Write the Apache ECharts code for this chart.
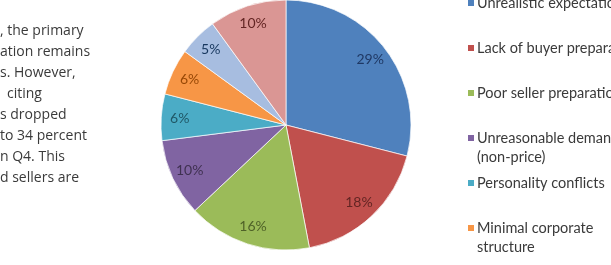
<!DOCTYPE html>
<html>
<head>
<meta charset="utf-8">
<script src="https://cdn.jsdelivr.net/npm/echarts@6/dist/echarts.min.js"></script>
<style>
  html, body { margin: 0; padding: 0; background: #fff; }
  #chart { width: 611px; height: 265px; }
</style>
</head>
<body>
<div id="chart"></div>
<script>
// slice data, clockwise from 12 o'clock
const reasons = [
  'Unrealistic expectations',
  'Lack of buyer preparation',
  'Poor seller preparation',
  'Unreasonable demands\n(non-price)',
  'Personality conflicts',
  'Minimal corporate\nstructure',
  'Financing issues',
  'Other'
];
const shares = [29, 18, 16, 10, 6, 6, 5, 10];

const sliceColors = ['#4F81BD', '#C0504D', '#9BBB59', '#8064A2', '#4BACC6', '#F79646', '#A7BDE0', '#DA9694'];
const labelColors = ['#1F3864', '#632523', '#4F6228', '#3F3151', '#205867', '#974806', '#17375E', '#632523'];

// text column on the left, clipped by the page edge
const sideText = [
  ', the primary',
  'ation remains',
  's. However,',
  ' citing',
  's dropped',
  'to 34 percent',
  'n Q4. This',
  'd sellers are'
];

let chart = echarts.init(document.getElementById('chart'), null, { renderer: 'canvas' });

const center = [286, 125];
const radius = 125;
const legendLine = 19;

let pieData = reasons.map(function(name, i) {
  return {
    name: name,
    value: shares[i],
    itemStyle: { color: sliceColors[i] },
    label: { color: labelColors[i] }
  };
});

// one legend per entry so every row keeps the same pitch
let legends = reasons.map(function(name, i) {
  let lines = name.split('\n').length;
  let mid = 3 + i * 45;
  return {
    orient: 'vertical',
    left: 466,
    top: lines > 1 ? mid - legendLine * 1.5 : mid - legendLine / 2,
    data: [name],
    icon: 'rect',
    itemWidth: 8,
    itemHeight: 8,
    itemGap: 0,
    padding: 0,
    selectedMode: false,
    // a blank first line keeps the marker level with the first text line
    formatter: function(n) { return lines > 1 ? '\n' + n : n; },
    textStyle: {
      fontFamily: 'Lato',
      fontSize: 14.5,
      color: '#3a3a3a',
      lineHeight: legendLine,
      padding: [0, 0, 0, -3]
    }
  };
});

let option = {
  animation: false,
  backgroundColor: '#fff',
  legend: legends,
  graphic: sideText.map(function(line, i) {
    return {
      type: 'text',
      left: line.charAt(0) === ' ' ? 7 : 0,
      top: 24 + i * 21,
      style: {
        text: line.trim(),
        font: '14px "Open Sans"',
        fill: '#3a3a3a'
      }
    };
  }),
  series: [
    {
      name: 'slices',
      type: 'pie',
      center: center,
      radius: [0, radius],
      startAngle: 90,
      clockwise: true,
      label: { show: false },
      labelLine: { show: false },
      itemStyle: { borderColor: '#fff', borderWidth: 0.7 },
      emphasis: { disabled: true },
      data: pieData
    },
    {
      // transparent ring that only carries the labels near the rim
      name: 'labels',
      type: 'pie',
      center: center,
      radius: [82, radius],
      startAngle: 90,
      clockwise: true,
      silent: true,
      itemStyle: { color: 'rgba(0,0,0,0)', borderWidth: 0 },
      label: {
        show: true,
        position: 'inner',
        formatter: '{c}%',
        fontFamily: 'Lato',
        fontSize: 14
      },
      labelLine: { show: false },
      emphasis: { disabled: true },
      data: pieData.map(function(d) {
        return { name: d.name, value: d.value, label: d.label, itemStyle: { color: 'rgba(0,0,0,0)' } };
      })
    }
  ]
};

chart.setOption(option);
</script>
</body>
</html>
